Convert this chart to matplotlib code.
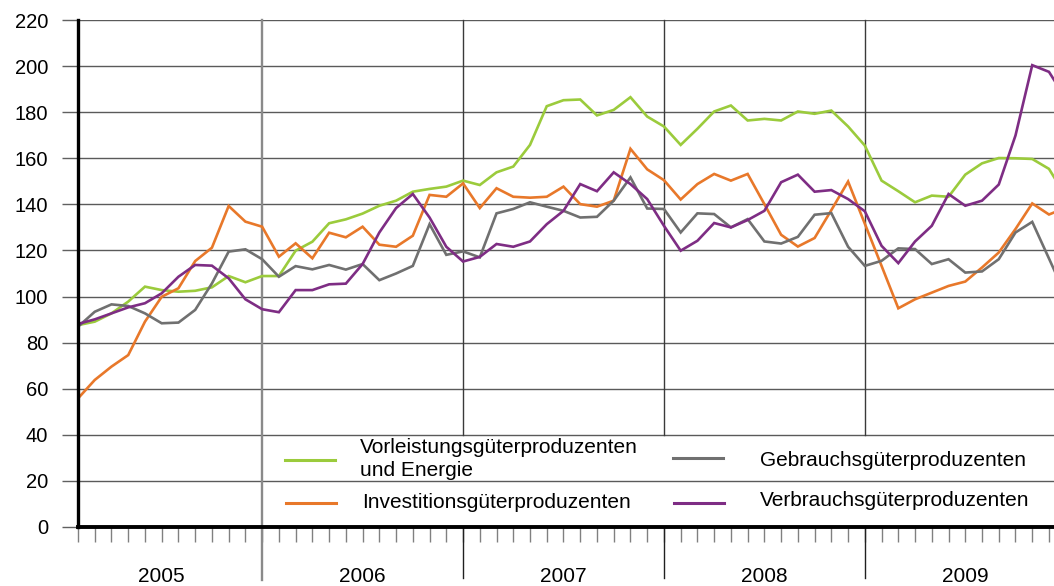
import matplotlib
matplotlib.use('Agg')
import matplotlib.pyplot as plt
import matplotlib.transforms as mtransforms
from matplotlib.lines import Line2D
import numpy as np

plt.rcParams['font.family'] = ['Liberation Sans', 'DejaVu Sans']

# ---------------- data (monthly index values) ----------------
years = ['2005', '2006', '2007', '2008', '2009']
y_ticks = [0, 20, 40, 60, 80, 100, 120, 140, 160, 180, 200, 220]

vorleistung = [87.6, 89.1, 92.7, 97.8, 104.3, 102.8, 102.1, 102.5, 104.0, 108.9,
               106.2, 108.9, 108.9, 119.9, 123.8, 131.8, 133.5, 136.0, 139.4, 141.6,
               145.5, 146.7, 147.7, 150.3, 148.4, 153.9, 156.4, 165.8, 182.6, 185.2,
               185.5, 178.6, 181.0, 186.5, 178.1, 173.8, 165.8, 172.8, 180.3, 182.9,
               176.4, 177.1, 176.4, 180.3, 179.3, 180.7, 173.8, 165.5, 150.3, 145.7,
               140.9, 143.8, 143.3, 152.9, 157.8, 160.1, 160.0, 159.7, 155.4, 143.6]

investition = [55.8, 63.8, 69.6, 74.6, 89.1, 99.9, 103.6, 115.4, 121.2, 139.3,
               132.5, 130.3, 117.3, 123.1, 116.6, 127.7, 125.7, 130.3, 122.5, 121.6,
               126.4, 144.1, 143.3, 149.1, 138.4, 147.0, 143.3, 142.9, 143.3, 147.7,
               140.1, 139.0, 141.6, 164.1, 155.2, 150.5, 142.1, 148.8, 153.2, 150.3,
               153.2, 140.1, 126.8, 121.7, 125.4, 137.5, 149.9, 131.6, 113.3, 94.9,
               98.8, 101.7, 104.6, 106.5, 112.6, 119.1, 129.3, 140.4, 135.6, 138.5]

gebrauch = [86.9, 93.4, 96.6, 95.9, 92.7, 88.4, 88.7, 94.2, 105.7, 119.5,
            120.5, 116.2, 108.6, 113.2, 111.8, 113.7, 111.7, 114.1, 107.1, 110.0,
            113.3, 131.4, 118.1, 119.6, 117.0, 136.1, 138.0, 140.9, 139.0, 137.2,
            134.3, 134.6, 141.6, 151.7, 138.2, 138.0, 127.8, 136.1, 135.8, 130.0,
            133.6, 123.9, 123.0, 125.9, 135.5, 136.2, 121.6, 113.3, 115.5, 120.9,
            120.6, 114.1, 116.2, 110.4, 110.9, 116.2, 127.8, 132.4, 116.5, 100.5]

verbrauch = [88.1, 90.1, 92.7, 95.3, 97.1, 101.4, 108.6, 113.7, 113.4, 107.9,
             98.8, 94.5, 93.2, 102.8, 102.8, 105.3, 105.6, 114.1, 127.8, 138.4,
             144.5, 134.3, 121.6, 115.2, 117.2, 122.8, 121.6, 123.9, 131.4, 137.2,
             148.8, 145.7, 153.9, 148.8, 142.3, 130.7, 119.9, 124.2, 131.9, 130.0,
             133.2, 137.2, 149.6, 152.9, 145.5, 146.2, 142.3, 137.0, 122.0, 114.5,
             123.9, 130.7, 144.5, 139.4, 141.6, 148.6, 169.9, 200.4, 197.5, 186.0]

labels = ['Vorleistungsgüterproduzenten\nund Energie',
          'Investitionsgüterproduzenten',
          'Gebrauchsgüterproduzenten',
          'Verbrauchsgüterproduzenten']
colors = ['#9BCB3C', '#E8782A', '#707070', '#7E2D84']

# ---------------- figure ----------------
W, H = 1054, 586
fig = plt.figure(figsize=(W / 100, H / 100), dpi=100)
ax_l, ax_r, ax_t, ax_b = 78, 1054, 20, 527
ax = fig.add_axes([ax_l / W, 1 - ax_b / H, (ax_r - ax_l) / W, (ax_b - ax_t) / H])
ax_h = ax_b - ax_t

def fpx(x, y):
    return x / W, 1 - y / H

series = [vorleistung, investition, gebrauch, verbrauch]
x = np.arange(len(vorleistung))
for s, c in zip(series, colors):
    ax.plot(x, s, color=c, lw=1.9, zorder=3, solid_joinstyle='miter')

ax.set_xlim(0, 58.3)
ax.set_ylim(0, 220)

# y axis
ax.set_yticks(y_ticks)
ax.tick_params(axis='y', length=11.5, width=1.0, color='#606060', pad=10,
               labelsize=14.5, labelcolor='black')
ax.yaxis.grid(True, color='#5a5a5a', lw=1.0, zorder=1)
ax.set_axisbelow(True)

# x axis: one tick per month
ax.set_xticks(x[x <= 58])
ax.set_xticklabels([])
ax.tick_params(axis='x', length=11, width=1.0, color='#808080')

for s in ['top', 'right']:
    ax.spines[s].set_visible(False)
ax.spines['left'].set_linewidth(2.4)
ax.spines['bottom'].set_linewidth(2.8)
ax.spines['left'].set_zorder(5)
ax.spines['bottom'].set_zorder(5)

# year boundaries (first visible month is the 2nd of 2005)
first_offset = -1
bounds = [first_offset + 12 * k for k in range(len(years) + 1)]
blend = mtransforms.blended_transform_factory(ax.transData, ax.transAxes)
for i, b in enumerate(bounds[1:-1]):
    if i == 0:
        ax.plot([b, b], [-53 / ax_h, 1], transform=blend, color='#8a8a8a', lw=1.7,
                clip_on=False, zorder=2)
    else:
        ax.plot([b, b], [40 / 220, 1], transform=blend, color='#3a3a3a', lw=1.0,
                clip_on=False, zorder=2)
        ax.plot([b, b], [-51 / ax_h, 0], transform=blend, color='#202020', lw=1.0,
                clip_on=False, zorder=2)

for yr, a, b in zip(years, bounds[:-1], bounds[1:]):
    ax.text((a + b) / 2, -(576 - ax_b) / ax_h, yr, transform=blend, ha='center',
            va='center', fontsize=15)

# legend (two columns, drawn in the plot area)
leg_items = [
    # handle x0, x1, y ; text x, y
    ((285, 335, 460), (360, 459)),
    ((286, 336, 503), (362, 502)),
    ((673, 723, 458), (760, 461)),
    ((674, 724, 503), (760, 500)),
]
for (hx0, hx1, hy), (tx, ty), lab, c in zip([i[0] for i in leg_items],
                                           [i[1] for i in leg_items], labels, colors):
    p0 = fpx(hx0, hy)
    p1 = fpx(hx1, hy)
    fig.add_artist(Line2D([p0[0], p1[0]], [p0[1], p1[1]], color=c, lw=2.2,
                          transform=fig.transFigure))
    tp = fpx(tx, ty)
    fig.text(tp[0], tp[1], lab, ha='left', va='center', fontsize=15,
             linespacing=1.22)

fig.savefig('out.png', dpi=100)
